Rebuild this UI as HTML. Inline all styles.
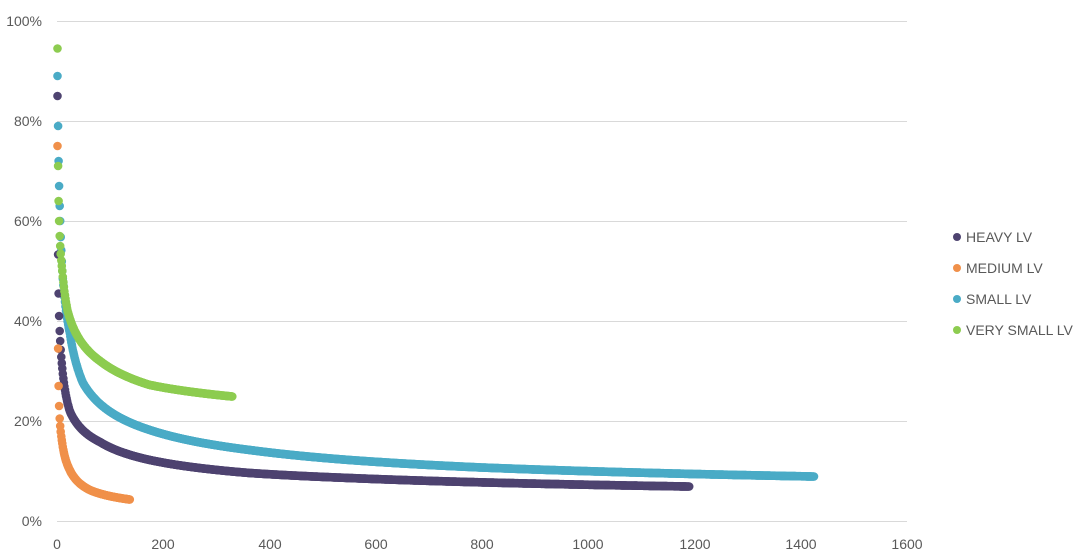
<!DOCTYPE html>
<html><head><meta charset="utf-8"><style>
html,body{margin:0;padding:0;background:#fff;width:1080px;height:560px;overflow:hidden}
svg text{font-family:"Liberation Sans",sans-serif;fill:#595959}
</style></head><body>
<svg id="s" width="1080" height="560" xmlns="http://www.w3.org/2000/svg">
<g stroke="#d9d9d9" stroke-width="1">
<line x1="57" y1="21.5" x2="907" y2="21.5"/><line x1="57" y1="121.5" x2="907" y2="121.5"/>
<line x1="57" y1="221.5" x2="907" y2="221.5"/><line x1="57" y1="321.5" x2="907" y2="321.5"/>
<line x1="57" y1="421.5" x2="907" y2="421.5"/><line x1="57" y1="521.5" x2="907" y2="521.5"/>
</g>
<g font-size="14" text-anchor="end">
<text x="42" y="26">100%</text><text x="42" y="126">80%</text><text x="42" y="226">60%</text>
<text x="42" y="326">40%</text><text x="42" y="426">20%</text><text x="42" y="526">0%</text>
</g>
<g font-size="14" text-anchor="middle">
<text x="57" y="549">0</text><text x="163" y="549">200</text><text x="270" y="549">400</text>
<text x="376" y="549">600</text><text x="482" y="549">800</text><text x="588" y="549">1000</text>
<text x="695" y="549">1200</text><text x="801" y="549">1400</text><text x="907" y="549">1600</text>
</g>
<g id="pts"></g>
<g font-size="14">
<circle cx="957" cy="237" r="4" fill="#4e4370"/><text x="966" y="242">HEAVY LV</text>
<circle cx="957" cy="268" r="4" fill="#f0904a"/><text x="966" y="273">MEDIUM LV</text>
<circle cx="957" cy="299" r="4" fill="#4aabc6"/><text x="966" y="304">SMALL LV</text>
<circle cx="957" cy="330" r="4" fill="#8dcc50"/><text x="966" y="335">VERY SMALL LV</text>
</g>
</svg>
<script>
var series=[
 ["#4aabc6",[[1,89],[2,79],[3,72],[4,67],[5,63],[6,60],[10,50],[24,37.6],[49,27.6],[175,18.2],[363,14.2],[551,12.2],[800,10.7],[1425,8.9]]],
 ["#4e4370",[[1,85],[2,53.3],[3,45.5],[4,41],[5,38],[6,36],[10,30.5],[24,22],[81,15.8],[175,12.2],[363,9.6],[551,8.6],[1190,6.9]]],
 ["#f0904a",[[1,75],[2,34.5],[3,27],[4,23],[5,20.5],[6,19],[10,15.5],[24,10.2],[62,6.2],[137,4.3]]],
 ["#8dcc50",[[1,94.5],[2,71],[3,64],[4,60],[5,57],[6,55],[10,50],[20,42],[43,36.2],[81,32],[175,27.2],[330,24.9]]]
];
var g=document.getElementById('pts'),h='';
series.forEach(function(s){
 var a=s[1],N=a[a.length-1][0];
 for(var x=1;x<=N;x++){
  var y;
  for(var i=0;i<a.length-1;i++){if(x>=a[i][0]&&x<=a[i+1][0]){
   var t=(Math.log(x)-Math.log(a[i][0]))/(Math.log(a[i+1][0])-Math.log(a[i][0]));
   y=Math.exp(Math.log(a[i][1])+t*(Math.log(a[i+1][1])-Math.log(a[i][1])));break;}}
  var px=57+x*0.53125,py=521-y*5;
  h+='<circle cx="'+px.toFixed(1)+'" cy="'+py.toFixed(1)+'" r="4.3" fill="'+s[0]+'"/>';
 }
});
g.innerHTML=h;
</script>
</body></html>
